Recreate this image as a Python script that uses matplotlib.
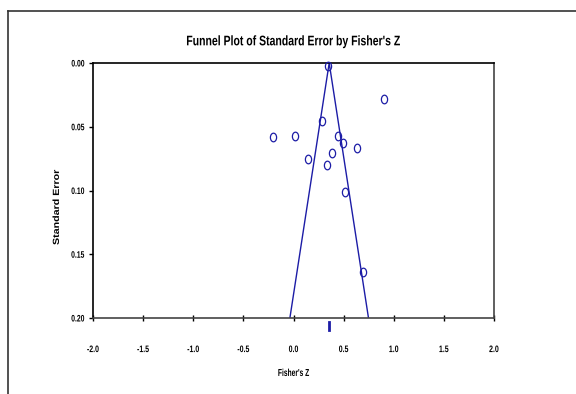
import matplotlib
matplotlib.use("Agg")
import matplotlib.pyplot as plt
from matplotlib.lines import Line2D
from matplotlib.patheffects import AbstractPathEffect
from matplotlib.transforms import Affine2D
from matplotlib.path import Path

fisher_z = [0.345, 0.903, 0.287, -0.203, 0.013, 0.443, 0.49, 0.63, 0.387, 0.147, 0.33, 0.51, 0.69]
std_err = [0.002, 0.028, 0.0455, 0.0578, 0.0575, 0.057, 0.063, 0.0667, 0.0706, 0.075, 0.0797, 0.101, 0.1637]
mean_z = 0.356
se_max = 0.20
x_ticks = [-2.0, -1.5, -1.0, -0.5, 0.0, 0.5, 1.0, 1.5, 2.0]
y_ticks = [0.00, 0.05, 0.10, 0.15, 0.20]


class Condense(AbstractPathEffect):
    """Scale the glyphs along the text direction (emulates a condensed / spaced face)."""
    def __init__(self, sx, anchor='center'):
        super().__init__()
        self.sx = sx
        self.anchor = anchor

    def draw_path(self, renderer, gc, tpath, affine, rgbFace=None):
        ext = tpath.get_extents()
        if self.anchor == 'center':
            cx = (ext.x0 + ext.x1) / 2
        elif self.anchor == 'right':
            cx = ext.x1
        else:
            cx = ext.x0
        pre = Affine2D().translate(-cx, 0).scale(self.sx, 1).translate(cx, 0)
        renderer.draw_path(gc, tpath, pre + affine, rgbFace)


W, H = 576, 394
fig = plt.figure(figsize=(W / 100, H / 100), dpi=100)
plt.rcParams['font.family'] = ['Liberation Sans', 'DejaVu Sans']

# outer frame
fig.add_artist(Line2D([7.5 / W, 7.5 / W], [1 - 10.5 / H, 0], transform=fig.transFigure, color='#333333', lw=1.2))
fig.add_artist(Line2D([7.5 / W, 1], [1 - 10.5 / H, 1 - 10.5 / H], transform=fig.transFigure, color='#333333', lw=1.2))

L, R, T, B = 93, 494, 63, 318
ax = fig.add_axes([L / W, 1 - B / H, (R - L) / W, (B - T) / H])
ax.set_xlim(-2, 2)
ax.set_ylim(se_max, 0)

col = '#1c1ca6'
circ = Path.unit_circle()
oval = circ.transformed(Affine2D().scale(0.72, 1.0))
ax.plot(fisher_z, std_err, linestyle='none', marker=oval, markersize=6.2, markerfacecolor='none',
        markeredgecolor=col, markeredgewidth=0.9, zorder=3, clip_on=False)
ax.plot([mean_z - 1.96 * se_max, mean_z, mean_z + 1.96 * se_max], [se_max, 0, se_max], color=col, lw=1.0)
ax.plot([mean_z, mean_z], [0.203, 0.2095], color=col, lw=2.0, clip_on=False)

ax.set_xticks(x_ticks)
ax.set_xticklabels([f"{v:.1f}" for v in x_ticks], fontsize=6.8, fontweight='bold')
ax.set_yticks(y_ticks)
ax.set_yticklabels([f"{v:.2f}" for v in y_ticks], fontsize=6.8, fontweight='bold')
ax.tick_params(axis='x', direction='inout', length=5, pad=17, width=1)
ax.tick_params(axis='y', direction='out', length=3, pad=3, width=1)
for lab in ax.get_xticklabels():
    lab.set_path_effects([Condense(0.74, 'center')])
for lab in ax.get_yticklabels():
    lab.set_path_effects([Condense(0.72, 'right')])
for s in ['left', 'top']:
    ax.spines[s].set_color('black')
    ax.spines[s].set_linewidth(1.2)
for s in ['right', 'bottom']:
    ax.spines[s].set_color('#444444')
    ax.spines[s].set_linewidth(1.2)

xl = ax.set_xlabel("Fisher's Z", fontsize=7.3, fontweight='bold', labelpad=10)
xl.set_path_effects([Condense(0.66, 'center')])
yl = ax.set_ylabel("Standard Error", fontsize=6.4, fontweight='bold')
yl.set_path_effects([Condense(1.2, 'center')])
ax.yaxis.set_label_coords(-0.08, 0.435)

title = fig.text(293.5 / W, 1 - 45.3 / H, "Funnel Plot of Standard Error by Fisher's Z", ha='center',
                 va='baseline', fontsize=10, fontweight='bold')
title.set_path_effects([Condense(0.755, 'center')])

fig.savefig("out.png", dpi=100)
